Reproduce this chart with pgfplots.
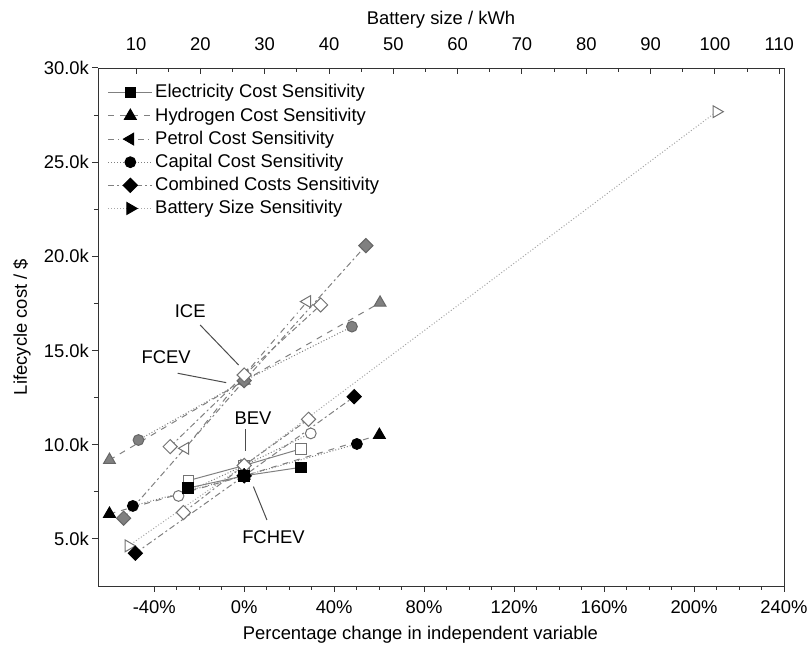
\documentclass[border=0pt]{standalone}
\usepackage{fontspec}
\setmainfont{Liberation Sans}
\usepackage{pgfplots}
\pgfplotsset{compat=1.18}

\tikzset{
  open/.style={fill=white, draw=black!55, solid},
  grey/.style={fill=black!50, draw=black!60, solid},
  blk/.style={fill=black, draw=black, solid},
}
\pgfplotsset{
  ser/.style={black!50, line width=0.5pt},
  elec/.style={ser, solid, mark=square*, mark size=2.6pt},
  hyd/.style={ser, dashed, mark=triangle*, mark size=3.4pt},
  pet/.style={ser, dash dot, mark=triangle*, mark size=3.4pt},
  cap/.style={ser, densely dotted, mark=*, mark size=2.7pt},
  comb/.style={ser, dash pattern=on 3pt off 1.5pt on 1pt off 1.5pt, mark=square*, mark size=2.5pt},
  batt/.style={ser, black!35, densely dotted, mark=triangle*, mark size=3.4pt},
}

\begin{document}
\begin{tikzpicture}
\begin{axis}[name=main,
  scale only axis, width=343pt, height=259pt,
  font=\fontsize{9.2}{11}\selectfont,
  xmin=-65, xmax=240, ymin=2500, ymax=30000,
  xtick={-40,0,...,240},
  xticklabels={-40\%,0\%,40\%,80\%,120\%,160\%,200\%,240\%},
  minor x tick num=3,
  ytick={5000,10000,...,30000},
  yticklabels={5.0k,10.0k,15.0k,20.0k,25.0k,30.0k},
  minor y tick num=1,
  scaled y ticks=false,
  xtick pos=bottom, ytick pos=left, tick align=outside,
  major tick length=3pt, minor tick length=2pt,
  xticklabel style={yshift=-1pt},
  yticklabel style={xshift=2pt},
  axis line style={black!80},
  every tick/.style={black!80, line width=0.5pt},
  xlabel={Percentage change in independent variable},
  ylabel={Lifecycle cost / \$},
  xlabel style={at={(axis description cs:0.47,-0.0946)}, anchor=center},
  ylabel style={at={(axis description cs:-0.111,0.5)}, anchor=center},
  legend cell align=left,
  legend image code/.code={\draw[mark repeat=2,mark phase=2] plot coordinates {(0pt,0pt) (11pt,0pt) (22pt,0pt)};},
  legend style={at={(axis description cs:0.005,0.981)}, anchor=north west,
    draw=none, fill=none, font=\fontsize{9.2}{11}\selectfont,
    row sep=1.0pt, nodes={inner sep=1.2pt}},
  clip=false,
]
\addlegendimage{elec, mark options={blk}}
\addlegendentry{Electricity Cost Sensitivity}
\addlegendimage{hyd, mark options={blk}}
\addlegendentry{Hydrogen Cost Sensitivity}
\addlegendimage{pet, mark options={blk, rotate=90}}
\addlegendentry{Petrol Cost Sensitivity}
\addlegendimage{cap, mark options={blk}}
\addlegendentry{Capital Cost Sensitivity}
\addlegendimage{comb, mark options={blk, rotate=45}}
\addlegendentry{Combined Costs Sensitivity}
\addlegendimage{batt, mark options={blk, rotate=-90}}
\addlegendentry{Battery Size Sensitivity}

% BEV (open marks)
\addplot[batt, forget plot, mark options={open, rotate=-90}] coordinates {(-51.4,4630) (0,8900) (210,27680)};
\addplot[elec, forget plot, mark options={open}] coordinates {(-24.7,8100) (0,8900) (25.2,9780)};
\addplot[cap, forget plot, mark options={open}] coordinates {(-29.2,7280) (0,8900) (29.6,10600)};
\addplot[comb, forget plot, mark options={open, rotate=45}] coordinates {(-27,6400) (0,8900) (28.6,11350)};

% FCHEV (black marks)
\addplot[elec, forget plot, mark options={blk}] coordinates {(-24.9,7700) (0,8350) (25.2,8800)};
\addplot[hyd, forget plot, mark options={blk}] coordinates {(-59.9,6330) (0,8350) (60.1,10520)};
\addplot[cap, forget plot, mark options={blk}] coordinates {(-49.5,6750) (0,8350) (50.1,10040)};
\addplot[comb, forget plot, mark options={blk, rotate=45}] coordinates {(-48.4,4240) (0,8350) (48.9,12550)};

% FCEV (grey marks)
\addplot[hyd, forget plot, mark options={grey}] coordinates {(-59.9,9190) (0,13400) (60.4,17540)};
\addplot[cap, forget plot, mark options={grey}] coordinates {(-47,10250) (0,13400) (47.9,16270)};
\addplot[comb, forget plot, mark options={grey, rotate=45}] coordinates {(-53.6,6100) (0,13400) (54.1,20570)};

% ICE (open marks)
\addplot[pet, forget plot, mark options={open, rotate=90}] coordinates {(-26.2,9810) (0,13700) (28,17600)};
\addplot[comb, forget plot, mark options={open, rotate=45}] coordinates {(-32.9,9900) (0,13700) (34,17420)};

% vehicle labels
\node[font=\fontsize{9.2}{11}\selectfont] at (axis cs:-24,17100) {ICE};
\draw[black!70, line width=0.5pt] (axis cs:-19.6,16358) -- (axis cs:-2.5,14235);
\node[font=\fontsize{9.2}{11}\selectfont] at (axis cs:-34.7,14644) {FCEV};
\draw[black!70, line width=0.5pt] (axis cs:-29.6,13794) -- (axis cs:-8,13296);
\node[font=\fontsize{9.2}{11}\selectfont] at (axis cs:3.9,11406) {BEV};
\draw[black!70, line width=0.5pt] (axis cs:0.4,10822) -- (axis cs:0.4,9686);
\node[font=\fontsize{9.2}{11}\selectfont] at (axis cs:13,5089) {FCHEV};
\draw[black!70, line width=0.5pt] (axis cs:4.1,7775) -- (axis cs:10.1,6007);
\end{axis}

\begin{axis}[
  scale only axis, width=343pt, height=259pt,
  font=\fontsize{9.2}{11}\selectfont,
  /pgf/number format/assume math mode=true,
  xmin=4.09, xmax=110.73, ymin=0, ymax=1,
  axis x line*=top, axis y line=none,
  xtick={10,20,...,110}, minor x tick num=1,
  tick align=inside,
  major tick length=3pt, minor tick length=2pt,
  xticklabel style={yshift=5pt},
  axis line style={black!80},
  every tick/.style={black!80, line width=0.5pt},
  xlabel={Battery size / kWh},
  xlabel style={at={(axis description cs:0.5,1.093)}, anchor=center},
]
\end{axis}

\pgfresetboundingbox
\path[use as bounding box] ([xshift=-49pt,yshift=-32.5pt]main.south west) rectangle ([xshift=11.5pt,yshift=34pt]main.north east);
\end{tikzpicture}
\end{document}
